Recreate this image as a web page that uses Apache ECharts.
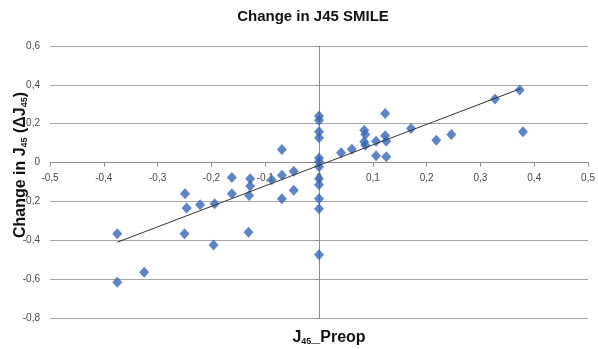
<!DOCTYPE html>
<html>
<head>
<meta charset="utf-8">
<script src="https://cdn.jsdelivr.net/npm/echarts@6/dist/echarts.min.js"></script>
<style>html,body{margin:0;padding:0;background:#fff}#c{width:598px;height:349px}</style>
</head>
<body>
<div id="c"></div>
<script>
var xTicks = {min: -0.5, max: 0.5, step: 0.1};
var yTicks = {min: -0.8, max: 0.6, step: 0.2};
var preopX = [0.373,0.327,0.379,0.246,0.218,0.171,0.123,0.123,0.125,0.125,0.106,0.106,0.084,0.086,0.084,0.086,0.061,0.041,
  0,0,0,0,0,0,0,0,0,0,0,0,
  -0.069,-0.047,-0.069,-0.088,-0.128,-0.128,-0.13,-0.162,-0.162,-0.194,-0.221,-0.246,-0.249,-0.047,-0.069,-0.25,-0.131,-0.196,-0.375,-0.375,-0.325];
var changeY = [0.373,0.327,0.158,0.145,0.115,0.176,0.253,0.138,0.11,0.03,0.11,0.035,0.167,0.145,0.107,0.089,0.069,0.05,
  0.24,0.218,0.158,0.128,0.024,0.004,-0.022,-0.083,-0.114,-0.186,-0.238,-0.475,
  0.067,-0.045,-0.065,-0.088,-0.083,-0.12,-0.169,-0.077,-0.16,-0.212,-0.217,-0.234,-0.16,-0.143,-0.186,-0.367,-0.358,-0.424,-0.367,-0.616,-0.565];
var trendX = [-0.375, 0.374];
var trendY = [-0.41, 0.38];

var pts = preopX.map(function(x, i){ return [x, changeY[i]]; });
var trend = trendX.map(function(x, i){ return [x, trendY[i]]; });
function fmt(v){ var r = Math.round(v*10)/10; if (r === 0) return '0'; return String(r).replace('.', ','); }

var gridTop = 46, gridBottom = 31, chartH = 349;
var plotH = chartH - gridTop - gridBottom;
// shift the bottom x axis up to where y = 0 lies
var xAxisOffset = -plotH * (0 - yTicks.min) / (yTicks.max - yTicks.min);

var chart = echarts.init(document.getElementById('c'));
var fontFam = '"Liberation Sans", Arial, sans-serif';
chart.setOption({
  animation: false,
  backgroundColor: '#fff',
  grid: {left: 50, right: 8, top: gridTop, bottom: gridBottom},
  xAxis: {
    type: 'value', min: xTicks.min, max: xTicks.max, interval: xTicks.step,
    position: 'bottom', offset: xAxisOffset,
    axisLine: {onZero: false, lineStyle: {color: '#8c8c8c', width: 1}},
    axisTick: {show: true, length: 4, lineStyle: {color: '#8c8c8c'}},
    axisLabel: {formatter: fmt, color: '#4a4a4a', fontSize: 10, fontFamily: fontFam, margin: 11, showMinLabel: true, showMaxLabel: true},
    splitLine: {show: false}
  },
  yAxis: {
    type: 'value', min: yTicks.min, max: yTicks.max, interval: yTicks.step,
    axisLine: {onZero: true, lineStyle: {color: '#8c8c8c', width: 1}},
    axisTick: {show: true, length: 4, lineStyle: {color: '#8c8c8c'}},
    axisLabel: {formatter: fmt, color: '#4a4a4a', fontSize: 10, fontFamily: fontFam, margin: 10, showMinLabel: true, showMaxLabel: true},
    splitLine: {show: true, lineStyle: {color: '#a6a6a6', width: 1}}
  },
  series: [
    {type: 'scatter', data: pts, symbol: 'diamond', symbolSize: [10, 11],
     itemStyle: {color: '#3466b6'}, z: 3},
    {type: 'line', data: trend, symbol: 'none', lineStyle: {color: '#333', width: 1}, z: 4, silent: true}
  ],
  graphic: [
    {type: 'text', x: 313, y: 17, style: {text: 'Change in J45 SMILE', font: 'bold 15px ' + fontFam, fill: '#111', align: 'center', verticalAlign: 'middle'}},
    {type: 'text', x: 329, y: 336, style: {text: '{b|J}{s|45}{b|_Preop}', align: 'center', verticalAlign: 'middle',
      rich: {b: {font: 'bold 16px ' + fontFam, fill: '#111', lineHeight: 20, verticalAlign: 'bottom'},
             s: {font: 'bold 9px ' + fontFam, fill: '#111', lineHeight: 16, verticalAlign: 'bottom'}}}},
    {type: 'text', x: 19, y: 165, rotation: Math.PI/2, style: {text: '{b|Change in J}{s|45}{b| (ΔJ}{s|45}{b|)}', align: 'center', verticalAlign: 'middle',
      rich: {b: {font: 'bold 16px ' + fontFam, fill: '#111', lineHeight: 20, verticalAlign: 'bottom'},
             s: {font: 'bold 9px ' + fontFam, fill: '#111', lineHeight: 16, verticalAlign: 'bottom'}}}}
  ]
});
</script>
</body>
</html>
